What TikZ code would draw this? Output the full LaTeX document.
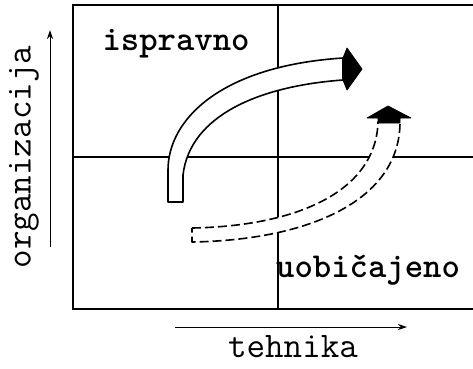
\documentclass[tikz,border=0pt]{standalone}
\usepackage{fontspec}
\usepackage{tikz}
\usetikzlibrary{arrows.meta}

\begin{document}
\begin{tikzpicture}[x=1pt, y=-1pt,
  frame/.style={black, line width=2pt},
  gridline/.style={black, line width=1.2pt},
  axisarrow/.style={black, line width=1pt, -{Stealth[length=9pt,width=6pt]}},
  hollow/.style={draw=black, line width=1.6pt, fill=white, line join=round},
  headfill/.style={fill=black, draw=black, line width=0.8pt, line join=round},
  qlabel/.style={font=\fontsize{35}{35}\selectfont\ttfamily\bfseries, inner sep=0pt},
  axlabel/.style={font=\fontsize{36}{36}\selectfont\ttfamily, inner sep=0pt}]

\useasboundingbox (0,0) rectangle (473,368);

% Frame
\coordinate (tl) at (73,5);
\coordinate (tr) at (473,5);
\coordinate (bl) at (73,309);
\coordinate (br) at (473,309);
\draw[frame] (tr) -- (tl) -- (bl) -- (br);

% Quadrant lines
\coordinate (mtop) at (278,5);
\coordinate (mbot) at (278,309);
\coordinate (mleft) at (73,157);
\coordinate (mright) at (473,157);
\draw[gridline] (mtop) -- (mbot);
\draw[gridline] (mleft) -- (mright);

% Solid arrow (ispravno)
\draw[hollow] (168,202) -- (168,170) .. controls (168,120) and (220,66) .. (343,58)
  -- (343,80) .. controls (260,86) and (190,115) .. (183,175) -- (183,202) -- cycle;
\fill[headfill] (343,58) -- (347,48) -- (362,69) -- (347,90) -- (343,80) -- cycle;

% Dashed arrow (uobicajeno)
\draw[hollow, dash pattern=on 9pt off 4pt] (192,228) .. controls (300,226) and (376,190) .. (378,122)
  -- (400,122) .. controls (400,200) and (310,240) .. (192,242) -- cycle;
\fill[headfill] (378,123) -- (378,118) -- (367,118) -- (388,106) -- (411,118)
  -- (400,118) -- (400,123) -- cycle;

% Labels
\node[qlabel] (ispravno) at (176,44) {ispravno};
\node[qlabel] (uobicajeno) at (368,270) {uobičajeno};

% Axes
\coordinate (ybot) at (50,247);
\coordinate (ytop) at (50,30);
\draw[axisarrow] (ybot) -- (ytop);
\node[axlabel, rotate=90] (org) at (24,157) {organizacija};

\coordinate (xleft) at (175,327);
\coordinate (xright) at (407,327);
\draw[axisarrow] (xleft) -- (xright);
\node[axlabel] (teh) at (293,347) {tehnika};

\end{tikzpicture}
\end{document}
